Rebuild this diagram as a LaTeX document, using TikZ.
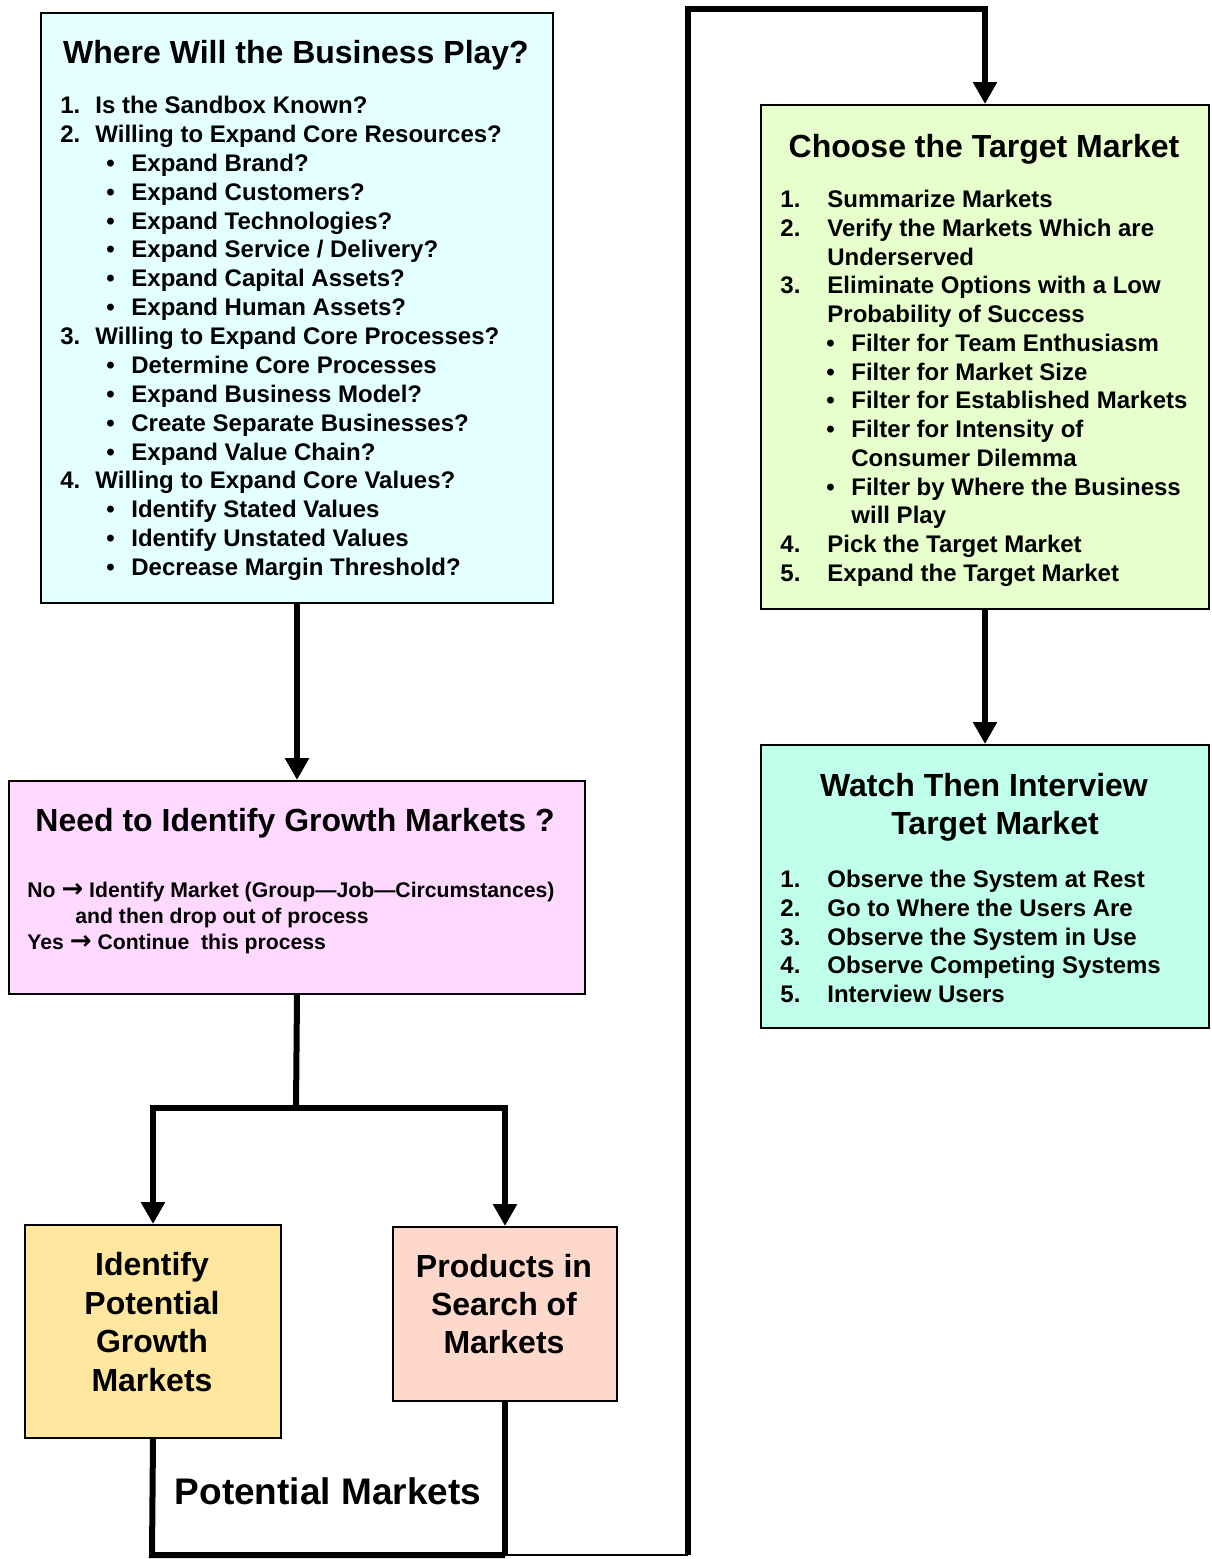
\documentclass[tikz,border=0pt]{standalone}
\usepackage{fontspec}
\setmainfont{Liberation Sans}
\newfontfamily\arrowfont{DejaVu Sans}
\usetikzlibrary{arrows.meta}
\definecolor{cwhere}{HTML}{E3FFFF}
\definecolor{cneed}{HTML}{FFD9FF}
\definecolor{cident}{HTML}{FFE79F}
\definecolor{cprod}{HTML}{FFD8CC}
\definecolor{cchoose}{HTML}{E6FFCC}
\definecolor{cwatch}{HTML}{C0FFEA}
\newcommand{\myarrow}{{\arrowfont\bfseries\fontsize{13}{12}\selectfont →}}
\tikzset{
  box/.style={draw=black, line width=1pt, rectangle, inner sep=0pt, anchor=north west},
  conn/.style={line width=3pt, line join=miter},
  arr/.style={conn, -{Triangle[width=11.5pt,length=11pt]}},
  thinconn/.style={line width=1pt},
  body/.style={anchor=base west, inner sep=0pt, font=\fontsize{12}{14}\selectfont\bfseries},
  small/.style={anchor=base west, inner sep=0pt, font=\fontsize{10.6}{12}\selectfont\bfseries},
  ttl/.style={anchor=base, inner sep=0pt, font=\fontsize{16}{19}\selectfont\bfseries},
  big/.style={anchor=base, inner sep=0pt, font=\fontsize{18.5}{22}\selectfont\bfseries},
}
\begin{document}
\begin{tikzpicture}[x=0.5pt,y=-0.5pt]
\useasboundingbox (0,0) rectangle (1211,1559);

% boxes
\node[box, fill=cwhere, minimum width=256pt, minimum height=295pt] (where) at (40,12) {};
\node[box, fill=cneed, minimum width=288pt, minimum height=106.5pt] (need) at (8,780) {};
\node[box, fill=cident, minimum width=128pt, minimum height=106.5pt] (ident) at (24,1224) {};
\node[box, fill=cprod, minimum width=112pt, minimum height=87pt] (prod) at (392,1226) {};
\node[box, fill=cchoose, minimum width=224pt, minimum height=252pt] (choose) at (760,104) {};
\node[box, fill=cwatch, minimum width=224pt, minimum height=141.5pt] (watch) at (760,744) {};

% connectors
\coordinate (split) at (296,1108);
\coordinate (bl) at (152,1555);
\coordinate (br) at (505,1555);
\coordinate (bc) at (688,1555);
\coordinate (tl) at (688,9);
\draw[arr] (where.south) -- (need.north);
\draw[conn] (need.south) -- (split);
\draw[arr] (split) -| (ident.north);
\draw[arr] (split) -| (prod.north);
\draw[conn] (ident.south) -- (bl) -- (br);
\draw[conn] (prod.south) -- (br);
\draw[thinconn] (br) -- (bc);
\draw[arr] (bc) -- (tl) -| (choose.north);
\draw[arr] (choose.south) -- (watch.north);

% Where box text
\node[ttl] (wt) at (296,63.5) {Where Will the Business Play?};
\foreach \k/\n/\t in {
 0/1./{Is the Sandbox Known?},
 1/2./{Willing to Expand Core Resources?},
 8/3./{Willing to Expand Core Processes?},
 13/4./{Willing to Expand Core Values?}}{
  \node[body] (wn\k) at (60,{113.5+\k*28.875}) {\n};
  \node[body] (wl\k) at (95,{113.5+\k*28.875}) {\t};
}
\foreach \k/\t in {
 2/{Expand Brand?},
 3/{Expand Customers?},
 4/{Expand Technologies?},
 5/{Expand Service / Delivery?},
 6/{Expand Capital Assets?},
 7/{Expand Human Assets?},
 9/{Determine Core Processes},
 10/{Expand Business Model?},
 11/{Create Separate Businesses?},
 12/{Expand Value Chain?},
 14/{Identify Stated Values},
 15/{Identify Unstated Values},
 16/{Decrease Margin Threshold?}}{
  \node[body] (wb\k) at (106,{113.5+\k*28.875}) {•};
  \node[body] (wl\k) at (131,{113.5+\k*28.875}) {\t};
}

% Need box text
\node[ttl] (nt) at (295,831.5) {Need to Identify Growth Markets ?};
\node[small] (n1) at (27,897.5) {No \myarrow\ Identify Market (Group—Job—Circumstances)};
\node[small] (n2) at (75,923.5) {and then drop out of process};
\node[small] (n3) at (27,949.5) {Yes \myarrow\ Continue\ \ this process};

% Identify box text
\node[ttl] (i1) at (152,1275.5) {Identify};
\node[ttl] (i2) at (152,1314) {Potential};
\node[ttl] (i3) at (152,1352.5) {Growth};
\node[ttl] (i4) at (152,1391) {Markets};

% Products box text
\node[ttl] (p1) at (504,1277.5) {Products in};
\node[ttl] (p2) at (504,1315.5) {Search of};
\node[ttl] (p3) at (504,1353.5) {Markets};

\node[big] (pm) at (328,1504) {Potential Markets};

% Choose box text
\node[ttl] (ct) at (984,157.5) {Choose the Target Market};
\foreach \k/\n/\t in {
 0/1./{Summarize Markets},
 1/2./{Verify the Markets Which are},
 3/3./{Eliminate Options with a Low},
 12/4./{Pick the Target Market},
 13/5./{Expand the Target Market}}{
  \node[body] (cn\k) at (780,{207.5+\k*28.77}) {\n};
  \node[body] (cl\k) at (827,{207.5+\k*28.77}) {\t};
}
\foreach \k/\t in {2/{Underserved}, 4/{Probability of Success}}{
  \node[body] (cl\k) at (827,{207.5+\k*28.77}) {\t};
}
\foreach \k/\t in {
 5/{Filter for Team Enthusiasm},
 6/{Filter for Market Size},
 7/{Filter for Established Markets},
 8/{Filter for Intensity of},
 10/{Filter by Where the Business}}{
  \node[body] (cb\k) at (826,{207.5+\k*28.77}) {•};
  \node[body] (cl\k) at (851,{207.5+\k*28.77}) {\t};
}
\foreach \k/\t in {9/{Consumer Dilemma}, 11/{will Play}}{
  \node[body] (cl\k) at (851,{207.5+\k*28.77}) {\t};
}

% Watch box text
\node[ttl] (wa1) at (984,796.5) {Watch Then Interview};
\node[ttl] (wa2) at (995,834.5) {Target Market};
\foreach \k/\n/\t in {
 0/1./{Observe the System at Rest},
 1/2./{Go to Where the Users Are},
 2/3./{Observe the System in Use},
 3/4./{Observe Competing Systems},
 4/5./{Interview Users}}{
  \node[body] (vn\k) at (780,{887.5+\k*28.75}) {\n};
  \node[body] (vl\k) at (827,{887.5+\k*28.75}) {\t};
}
\end{tikzpicture}
\end{document}
